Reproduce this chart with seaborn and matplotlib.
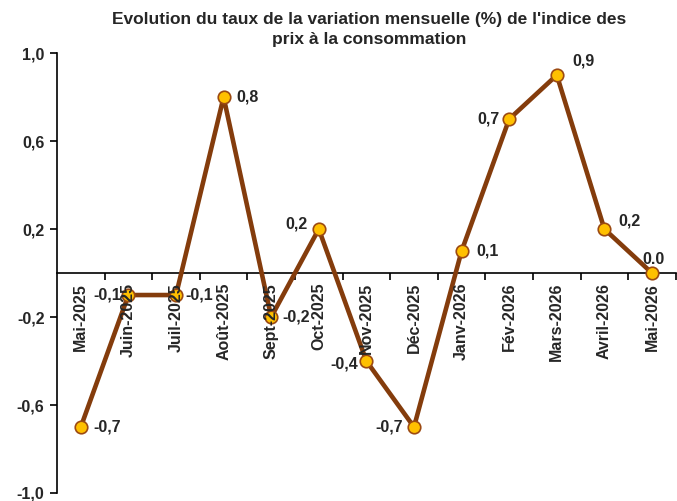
import pandas as pd
import matplotlib.pyplot as plt
import seaborn as sns

months = ["Mai-2025", "Juin-2025", "Juil-2025", "Août-2025", "Sept-2025", "Oct-2025",
          "Nov-2025", "Déc-2025", "Janv-2026", "Fév-2026", "Mars-2026", "Avril-2026", "Mai-2026"]
values = [-0.7, -0.1, -0.1, 0.8, -0.2, 0.2, -0.4, -0.7, 0.1, 0.7, 0.9, 0.2, 0.0]
labels = ["-0,7", "-0,1", "-0,1", "0,8", "-0,2", "0,2", "-0,4", "-0,7", "0,1", "0,7", "0,9", "0,2", "0.0"]
# label offsets in points (dx, dy) and horizontal alignment
offsets = [(9, 0, "left"), (-5, 0, "right"), (7, 0, "left"), (9, 0, "left"), (8, 0, "left"),
           (-8, 4, "right"), (-6, -2, "right"), (-8, 0, "right"), (11, 0, "left"),
           (-7, 0, "right"), (11, 10, "left"), (10, 6, "left"), (-7, 10, "left")]

FONT = "Liberation Sans"
LINE = "#843C0C"
FACE = "#FFC000"
EDGE = "#9C4A12"
FS = 11.5


def create_plot():
    df = pd.DataFrame({"mois": months, "taux": values})

    sns.set_theme(style="white")
    plt.rcParams["font.family"] = [FONT, "DejaVu Sans"]

    fig = plt.figure(figsize=(6.77, 5.01), dpi=100)
    ax = fig.add_axes([0.0842, 0.016, 0.914, 0.878])

    sns.lineplot(x="mois", y="taux", data=df, sort=False, ax=ax, color=LINE, linewidth=3.3,
                 marker="o", markersize=9, markerfacecolor=FACE, markeredgecolor=EDGE,
                 markeredgewidth=1.2, zorder=3)

    ax.set_xlim(-0.5, len(months) - 0.5)
    ax.set_ylim(-1.0, 1.0)
    yt = [-1.0, -0.6, -0.2, 0.2, 0.6, 1.0]
    ax.set_yticks(yt)
    ax.set_yticklabels([f"{v:.1f}".replace(".", ",") for v in yt], fontsize=FS, fontweight="bold")
    ax.tick_params(axis="y", direction="out", length=5, width=1.2, color="black", pad=4, left=True)

    # x axis through zero, ticks between categories
    for s in ["top", "right"]:
        ax.spines[s].set_visible(False)
    ax.spines["left"].set_color("black")
    ax.spines["left"].set_linewidth(1.2)
    ax.spines["bottom"].set_position(("data", 0))
    ax.spines["bottom"].set_color("black")
    ax.spines["bottom"].set_linewidth(1.2)
    ax.set_xticks([i + 0.5 for i in range(len(months))])
    ax.set_xticklabels([])
    ax.tick_params(axis="x", direction="out", length=5, width=1.2, color="black", bottom=True)
    for i, m in enumerate(months):
        ax.annotate(m, xy=(i, 0), xytext=(0, -7), textcoords="offset points", rotation=90,
                    ha="center", va="top", fontsize=FS, fontweight="bold", zorder=4)

    for i, (v, lab) in enumerate(zip(values, labels)):
        dx, dy, ha = offsets[i]
        ax.annotate(lab, xy=(i, v), xytext=(dx, dy), textcoords="offset points",
                    ha=ha, va="center", fontsize=FS, fontweight="bold", zorder=5)

    ax.set_xlabel("")
    ax.set_ylabel("")
    ax.grid(False)
    fig.text(0.545, 0.976, "Evolution du taux de la variation mensuelle (%) de l'indice des\nprix à la consommation",
             ha="center", va="top", fontsize=12.5, fontweight="bold", linespacing=1.4)

    fig.savefig("out.png", dpi=100)
    plt.close(fig)


if __name__ == "__main__":
    create_plot()
